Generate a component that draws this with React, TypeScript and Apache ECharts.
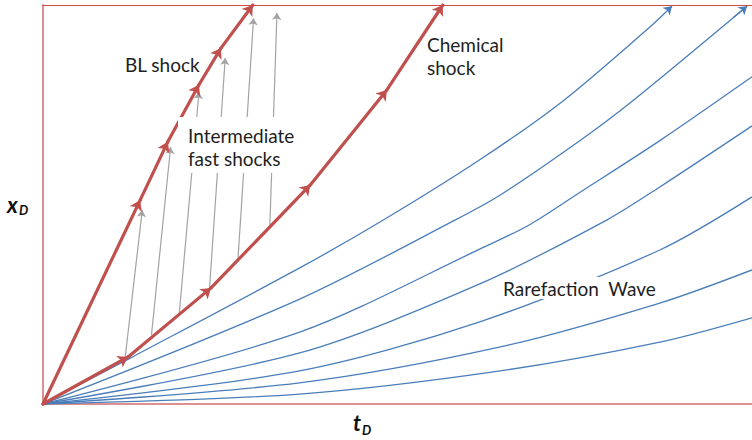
import React, { useEffect, useRef } from "react";
import * as echarts from "echarts";

// Characteristics of the rarefaction fan, points as [tD, xD]
const rarefaction1 = [[0, 0], [12.3, 11.5], [36.2, 34.1], [48.0, 46.1], [61.6, 61.2], [73.3, 75.9], [85.6, 94.5], [88.7, 99.7]];
const rarefaction2 = [[0, 0], [36.2, 26.3], [58.1, 46.1], [64.5, 52.4], [75.7, 66.0], [83.1, 75.9], [99.3, 99.7]];
const rarefaction3 = [[0, 0], [36.2, 18.0], [61.6, 38.8], [68.7, 45.0], [75.7, 53.0], [87.0, 66.0], [100, 82.0]];
const rarefaction4 = [[0, 0], [36.2, 12.8], [61.6, 30.1], [79.5, 46.1], [87.0, 54.4], [100, 69.7]];
const rarefaction5 = [[0, 0], [36.2, 8.3], [61.6, 20.6], [87.0, 38.6], [100, 51.9]];
const rarefaction6 = [[0, 0], [36.2, 5.3], [64.5, 14.3], [87.0, 25.3], [100, 33.6]];
const rarefaction7 = [[0, 0], [36.2, 2.5], [64.5, 8.3], [87.0, 15.5], [100, 21.6]];
const rarefactionCurves = [rarefaction1, rarefaction2, rarefaction3, rarefaction4, rarefaction5, rarefaction6, rarefaction7];
// curves that leave through the top edge carry an arrow head
const arrowedCurves = [rarefaction1, rarefaction2];

// Shock paths (piecewise, with a direction arrow at every vertex)
const blShock = [[0, 0], [13.7, 51.1], [17.6, 65.7], [22.0, 80.0], [25.1, 89.2], [29.6, 100]];
const chemicalShock = [[0, 0], [12.0, 11.8], [23.7, 29.1], [37.7, 54.9], [48.5, 78.7], [56.4, 100]];

// Intermediate fast shocks: from the chemical shock up towards the BL shock
const fastShockStarts = [[11.6, 11.8], [15.3, 17.3], [19.2, 22.3], [23.5, 29.3], [27.5, 36.3], [32.0, 44.9]];
const fastShockEnds = [[14.0, 48.6], [18.0, 64.4], [22.0, 78.2], [25.7, 86.7], [29.7, 96.7], [33.0, 98.0]];

const RED = "#c0504d";
const BLUE = "#4a7ebb";
const GREY = "#a3a3a3";
const TEXT = "#1e1e1e";
const FONT = "Lato, 'Open Sans', sans-serif";

function segments(path: number[][]) {
  const out: { coords: number[][] }[] = [];
  for (let i = 1; i < path.length; i++) out.push({ coords: [path[i - 1], path[i]] });
  return out;
}

function tailSegment(path: number[][]) {
  const a = path[path.length - 2];
  const b = path[path.length - 1];
  const f = 0.12;
  return { coords: [[b[0] - (b[0] - a[0]) * f, b[1] - (b[1] - a[1]) * f], b] };
}

const hiddenAxis = {
  axisTick: { show: false },
  axisLabel: { show: false },
  splitLine: { show: false },
};

export default function App() {
  const ref = useRef<HTMLDivElement>(null);

  useEffect(() => {
    if (!ref.current) return;
    const chart = echarts.init(ref.current, null, { renderer: "svg" });

    const series: any[] = [];
    rarefactionCurves.forEach((c, i) => {
      series.push({
        type: "line",
        name: "rarefaction" + (i + 1),
        data: c,
        smooth: 0.3,
        symbol: "none",
        silent: true,
        lineStyle: { color: BLUE, width: 1.3 },
        z: 2,
      });
    });
    series.push({
      type: "lines",
      coordinateSystem: "cartesian2d",
      data: arrowedCurves.map(tailSegment),
      symbol: ["none", "arrow"],
      symbolSize: 8,
      clip: false,
      silent: true,
      lineStyle: { color: BLUE, width: 1.3, opacity: 1 },
      z: 3,
    });
    series.push({
      type: "lines",
      coordinateSystem: "cartesian2d",
      data: fastShockStarts.map((s, i) => ({ coords: [s, fastShockEnds[i]] })),
      symbol: ["none", "arrow"],
      symbolSize: 7,
      clip: false,
      silent: true,
      lineStyle: { color: GREY, width: 1.2, opacity: 1 },
      z: 3,
    });
    series.push({
      type: "lines",
      coordinateSystem: "cartesian2d",
      data: [...segments(blShock), ...segments(chemicalShock)],
      symbol: ["none", "arrow"],
      symbolSize: 10,
      clip: false,
      silent: true,
      lineStyle: { color: RED, width: 3.2, opacity: 1, cap: "round" },
      z: 4,
    });

    const label = (text: string, x: number, y: number) => ({
      type: "text",
      x,
      y,
      z: 101,
      silent: true,
      style: { text, font: `19px ${FONT}`, fill: TEXT, textVerticalAlign: "top", verticalAlign: "top", lineHeight: 23 },
    });

    chart.setOption({
      animation: false,
      grid: { left: 43, top: 5, right: 0, bottom: 36, show: false },
      xAxis: [
        {
          type: "value", min: 0, max: 100, position: "bottom",
          axisLine: { show: true, onZero: false, lineStyle: { color: "#de9090", width: 2 } },
          ...hiddenAxis,
        },
        {
          type: "value", min: 0, max: 100, position: "top",
          axisLine: { show: true, onZero: false, lineStyle: { color: "#d24a4a", width: 1 } },
          ...hiddenAxis,
        },
      ],
      yAxis: {
        type: "value", min: 0, max: 100,
        axisLine: { show: true, onZero: false, lineStyle: { color: "#de9090", width: 2 } },
        ...hiddenAxis,
      },
      series,
      graphic: [
        { type: "rect", z: 100, silent: true, shape: { x: 178, y: 117, width: 127, height: 56 }, style: { fill: "#ffffff" } },
        { type: "rect", z: 100, silent: true, shape: { x: 497, y: 277, width: 164, height: 22 }, style: { fill: "#ffffff" } },
        label("BL shock", 125, 53),
        label("Intermediate\nfast shocks", 188, 124),
        label("Chemical\nshock", 427, 33),
        label("Rarefaction  Wave", 503, 277),
        { type: "text", x: 7, y: 193, z: 101, silent: true, style: { text: "x", font: `italic bold 22px ${FONT}`, fill: "#111", textVerticalAlign: "top", verticalAlign: "top" } },
        { type: "text", x: 19, y: 203, z: 101, silent: true, style: { text: "D", font: `italic bold 13px ${FONT}`, fill: "#111", textVerticalAlign: "top", verticalAlign: "top" } },
        { type: "text", x: 353, y: 411, z: 101, silent: true, style: { text: "t", font: `italic bold 22px ${FONT}`, fill: "#111", textVerticalAlign: "top", verticalAlign: "top" } },
        { type: "text", x: 362, y: 423, z: 101, silent: true, style: { text: "D", font: `italic bold 13px ${FONT}`, fill: "#111", textVerticalAlign: "top", verticalAlign: "top" } },
      ],
    });

    return () => chart.dispose();
  }, []);

  return (
    <div
      ref={ref}
      style={{ position: "absolute", left: 0, top: 0, width: 752, height: 440, background: "#ffffff" }}
    />
  );
}
